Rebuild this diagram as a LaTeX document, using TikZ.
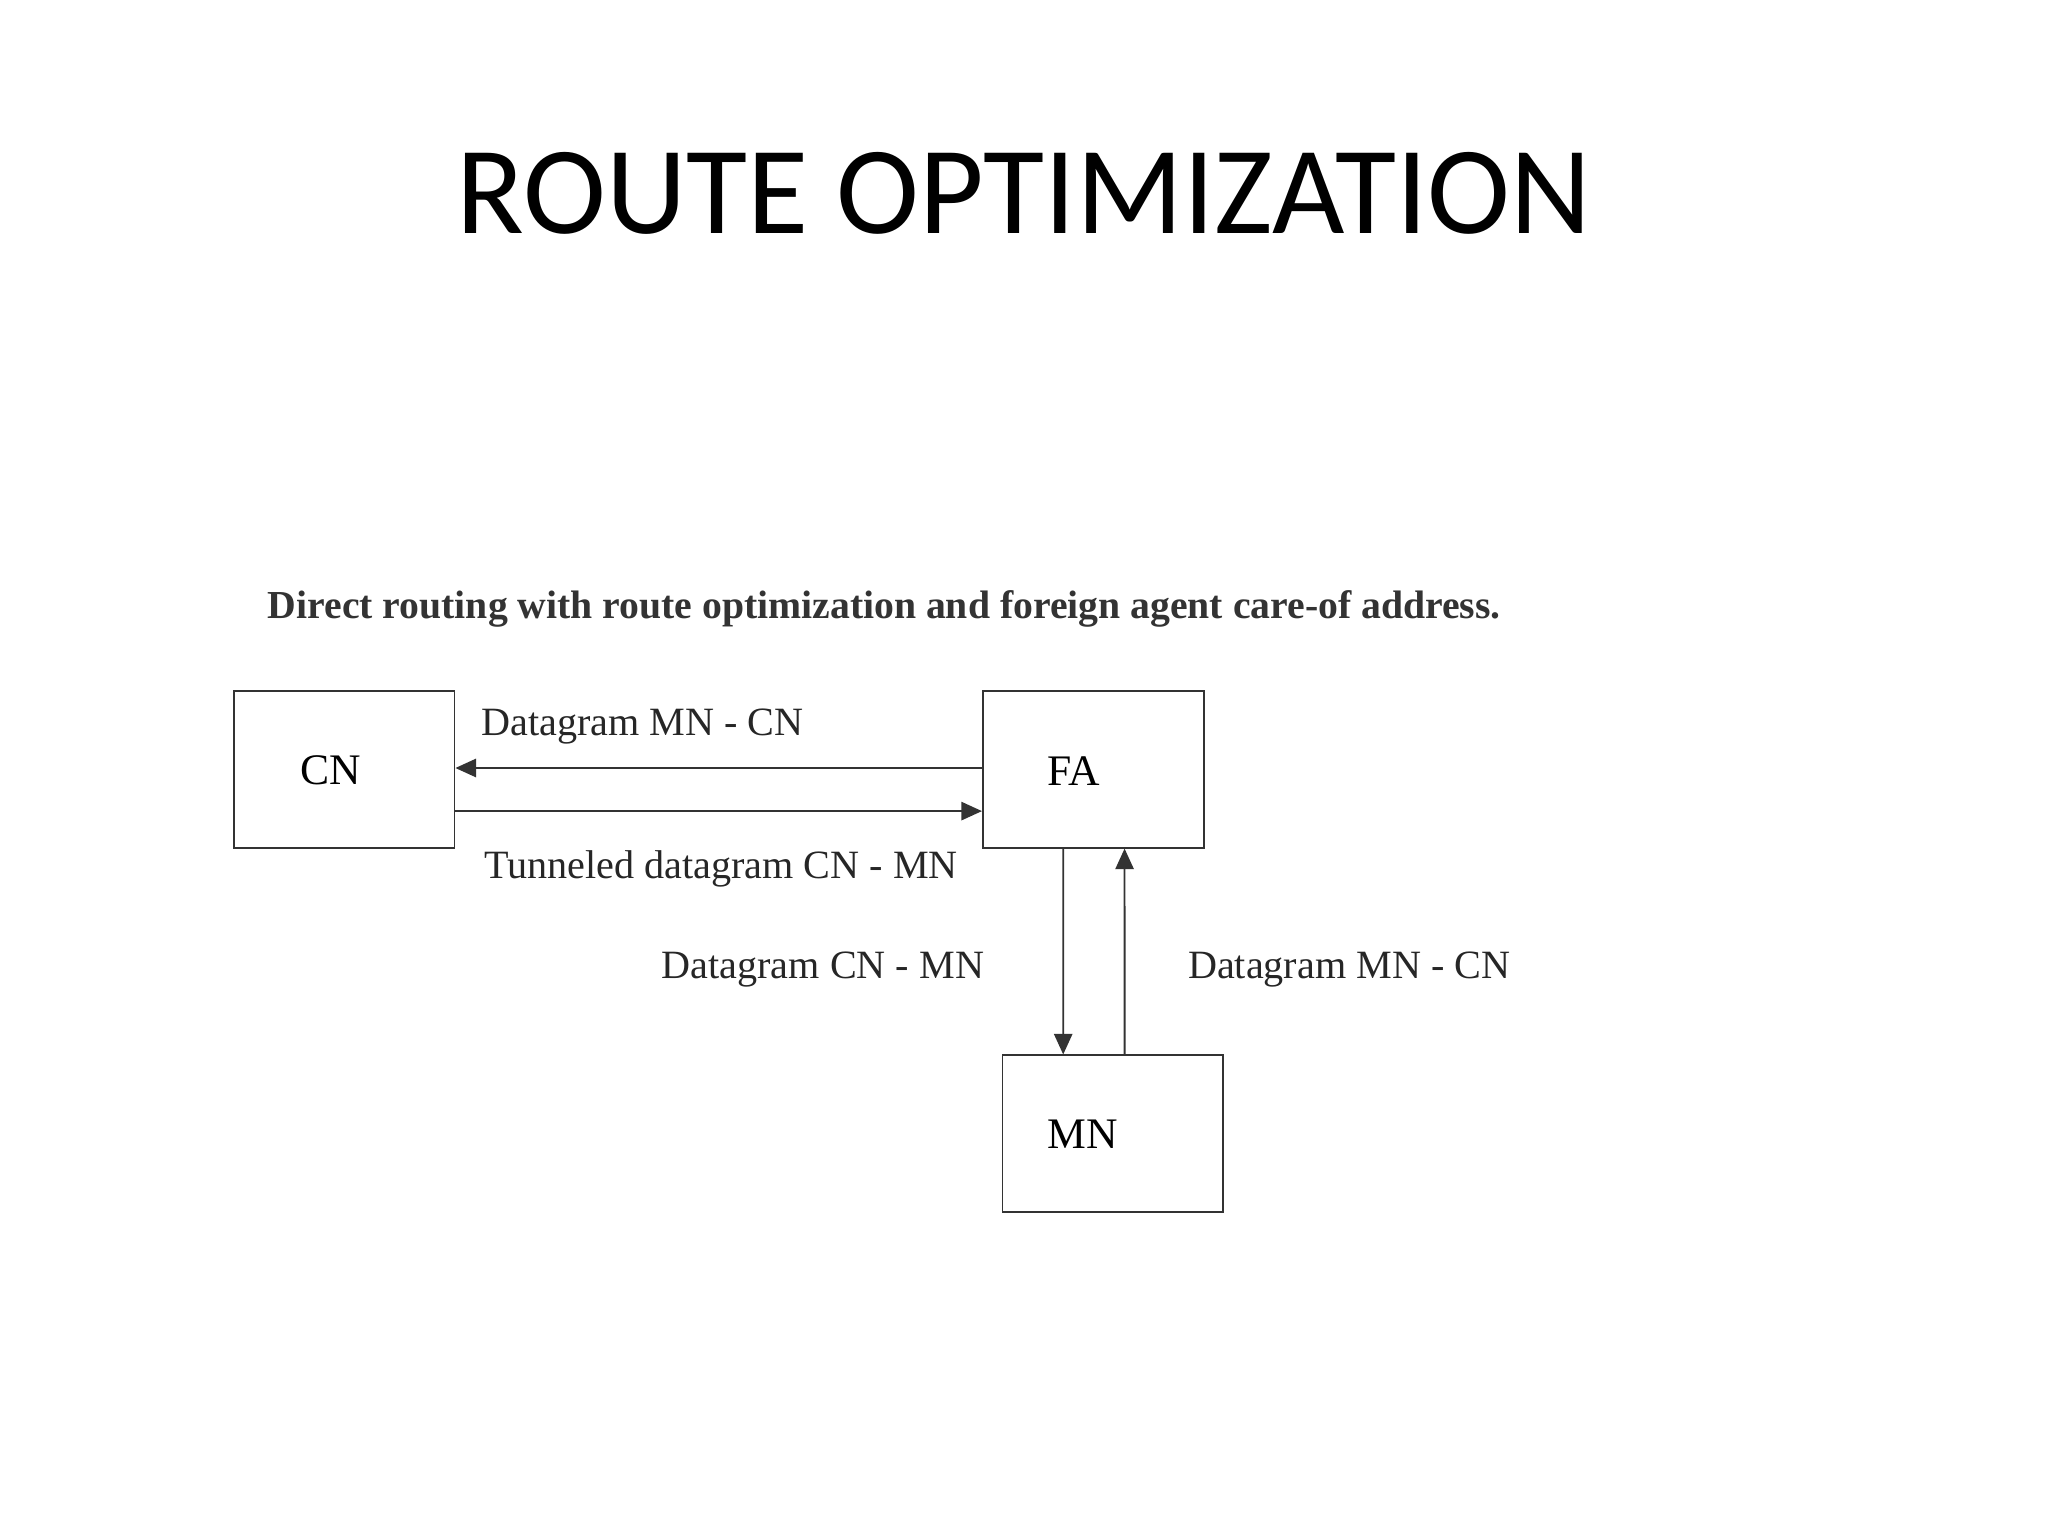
\documentclass[tikz,border=0pt]{standalone}
\usepackage{fontspec}
\setmainfont{Liberation Serif}
\newfontfamily\titlefont{Carlito}
\usetikzlibrary{arrows.meta}
\begin{document}
\begin{tikzpicture}[x=0.02cm,y=-0.02cm,
  box/.style={draw=black!80,line width=0.8pt,minimum width=3.38cm,minimum height=2.4cm},
  boxlbl/.style={font=\fontsize{19}{23}\selectfont},
  lbl/.style={font=\fontsize{17.5}{21}\selectfont,text=black!85},
  arr/.style={draw=black!80,line width=0.8pt,-{Triangle[length=9pt,width=8pt]}}]
\useasboundingbox (0,0) rectangle (1568,1176);
\node[font=\titlefont\fontsize{54.5}{62}\selectfont] (title) at (784,148) {ROUTE OPTIMIZATION};
\node[font=\bfseries\fontsize{17.3}{21}\selectfont,text=black!80] (sub) at (677,466) {Direct routing with route optimization and foreign agent care-of address.};
\node[box] (cn) at (263.5,589) {};
\node[box] (fa) at (837,589) {};
\node[box] (mn) at (852,868) {};
\node[boxlbl] at (253,590) {CN};
\node[boxlbl] at (822,590) {FA};
\node[boxlbl] at (829,868) {MN};
\draw[arr] ([yshift=0.02cm]fa.west) -- ([yshift=0.02cm]cn.east);
\draw[arr] ([yshift=-0.64cm]cn.east) -- ([yshift=-0.64cm]fa.west);
\draw[arr] ([xshift=-0.46cm]fa.south) -- ([xshift=-0.76cm]mn.north);
\draw[arr] ([xshift=0.18cm]mn.north) -- ([xshift=0.48cm]fa.south);
\node[lbl] (l1) at (492,556) {Datagram MN - CN};
\node[lbl] (l2) at (552,665) {Tunneled datagram CN - MN};
\node[lbl] (l3) at (630,742) {Datagram CN - MN};
\node[lbl] (l4) at (1033,742) {Datagram MN - CN};
\end{tikzpicture}
\end{document}
